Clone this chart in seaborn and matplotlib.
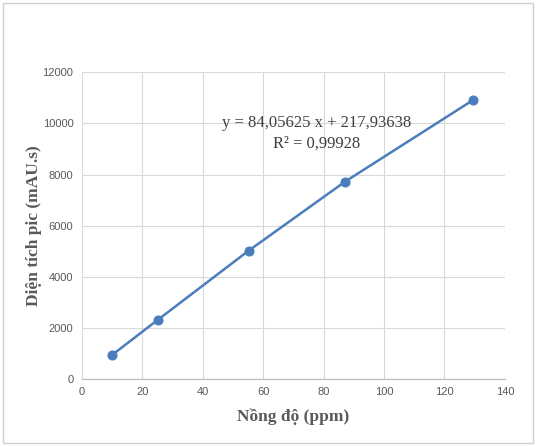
import numpy as np
import pandas as pd
import matplotlib
matplotlib.use("Agg")
import matplotlib.pyplot as plt
import seaborn as sns

# data
nong_do = [10, 25.1, 55.2, 87.1, 129.3]
dien_tich = [940, 2310, 5020, 7720, 10900]
x_ticks = [0, 20, 40, 60, 80, 100, 120, 140]
y_ticks = [0, 2000, 4000, 6000, 8000, 10000, 12000]
eq_text = "y = 84,05625 x + 217,93638"
r2_text = "R² = 0,99928"

df = pd.DataFrame({"x": nong_do, "y": dien_tich})

sns.set_theme(style="whitegrid")
plt.rcParams["font.family"] = ["Liberation Sans", "DejaVu Sans"]

fig = plt.figure(figsize=(5.36, 4.46), dpi=100)
ax = fig.add_axes([0.1524, 0.150, 0.7896, 0.688])

blue = "#4a7ebb"
sns.lineplot(data=df, x="x", y="y", ax=ax, color=blue, linewidth=1.8,
             marker="o", markersize=6.5, markeredgecolor=blue)

ax.set_xlim(0, 140)
ax.set_ylim(0, 12000)
ax.set_xticks(x_ticks)
ax.set_yticks(y_ticks)
ax.grid(True, color="#d9d9d9", linewidth=0.8)
ax.tick_params(axis="both", labelsize=8, colors="#595959", length=0, pad=6)
for s in ["left", "top", "right"]:
    ax.spines[s].set_visible(False)
ax.spines["bottom"].set_color("#bfbfbf")
ax.spines["bottom"].set_linewidth(0.9)

serif = ["Liberation Serif", "DejaVu Serif"]
ax.set_xlabel("Nồng độ (ppm)", family=serif, fontsize=12.5, fontweight="bold",
              color="#595959", labelpad=8)
ax.set_ylabel("Diện tích pic (mAU.s)", family=serif, fontsize=12.5,
              fontweight="bold", color="#595959", labelpad=0)

ax.text(0.555, 0.835, eq_text, transform=ax.transAxes, ha="center", va="center",
        family=serif, fontsize=12, color="#404040")
ax.text(0.555, 0.767, r2_text, transform=ax.transAxes, ha="center", va="center",
        family=serif, fontsize=12, color="#404040")

# chart border like the Excel frame
fig.patches.append(plt.Rectangle((0.006, 0.007), 0.988, 0.986, transform=fig.transFigure,
                                 fill=False, edgecolor="#d0d0d0", linewidth=1))

fig.savefig("out.png", dpi=100, facecolor="white")
